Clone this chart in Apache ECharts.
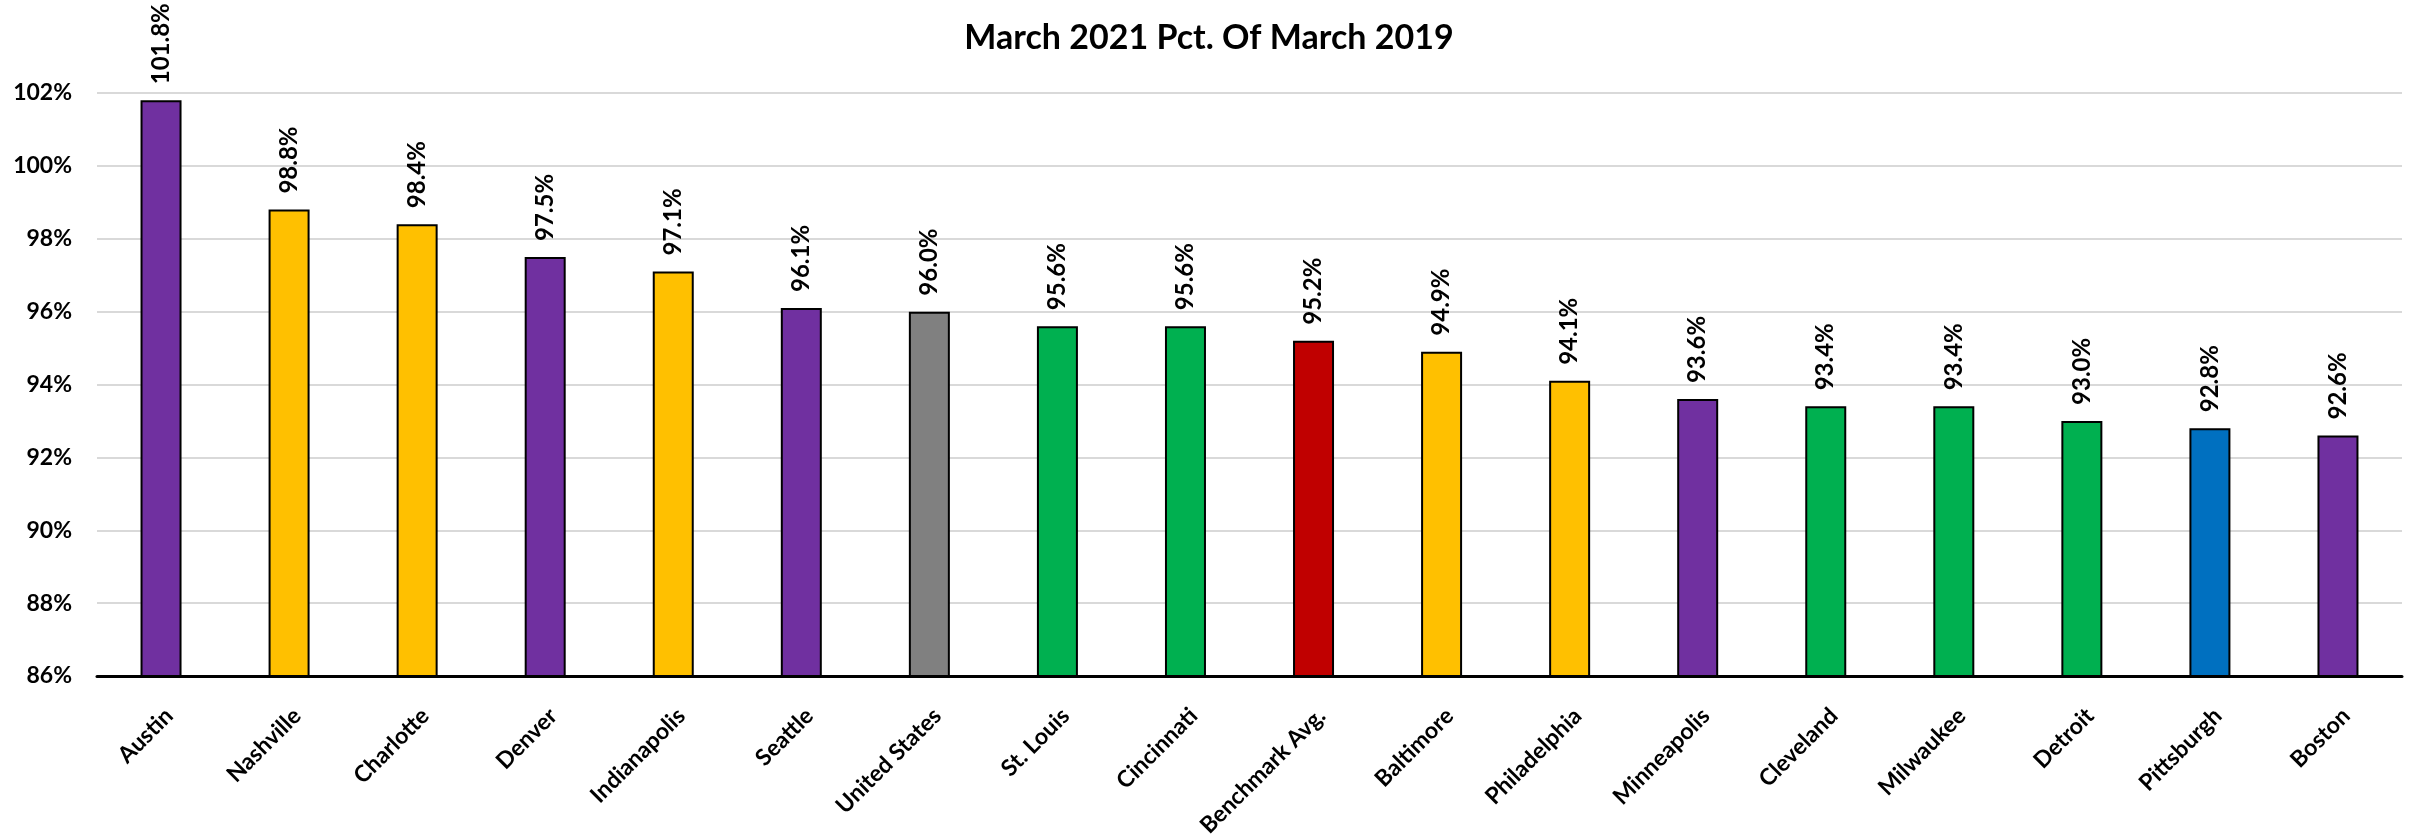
<!DOCTYPE html>
<html>
<head>
<meta charset="utf-8">
<title>March 2021 Pct. Of March 2019</title>
<script src="https://cdn.jsdelivr.net/npm/echarts@6/dist/echarts.min.js"></script>
<style>
  html, body { margin: 0; padding: 0; background: #ffffff; }
  #chart { width: 2418px; height: 838px; }
</style>
</head>
<body>
<div id="chart"></div>
<script>
// Metro areas, ordered from highest to lowest
const cities = [
  'Austin', 'Nashville', 'Charlotte', 'Denver', 'Indianapolis', 'Seattle',
  'United States', 'St. Louis', 'Cincinnati', 'Benchmark Avg.', 'Baltimore',
  'Philadelphia', 'Minneapolis', 'Cleveland', 'Milwaukee', 'Detroit',
  'Pittsburgh', 'Boston'
];

// March 2021 as a percent of March 2019
const pctOf2019 = [
  101.8, 98.8, 98.4, 97.5, 97.1, 96.1,
  96.0, 95.6, 95.6, 95.2, 94.9,
  94.1, 93.6, 93.4, 93.4, 93.0,
  92.8, 92.6
];

// Group of each bar (drives its fill colour)
const groups = [
  'peer', 'south', 'south', 'peer', 'south', 'peer',
  'nation', 'midwest', 'midwest', 'benchmark', 'south',
  'south', 'peer', 'midwest', 'midwest', 'midwest',
  'home', 'peer'
];

const groupColors = {
  peer: '#7030A0',
  south: '#FFC000',
  nation: '#808080',
  midwest: '#00B050',
  benchmark: '#C00000',
  home: '#0070C0'
};

// Value axis range and step
const yMin = 86;
const yMax = 102;
const yStep = 2;

const FONT = 'Lato, "Open Sans", sans-serif';

const chart = echarts.init(document.getElementById('chart'), null, { renderer: 'canvas' });

chart.setOption({
  animation: false,
  backgroundColor: '#ffffff',
  title: {
    text: 'March 2021 Pct. Of March 2019',
    left: 'center',
    top: 16,
    textStyle: {
      fontFamily: FONT,
      fontWeight: 'bold',
      fontSize: 34,
      color: '#000000'
    }
  },
  grid: {
    left: 97,
    right: 16,
    top: 93,
    bottom: 162,
    containLabel: false,
    outerBoundsMode: 'none'
  },
  xAxis: {
    type: 'category',
    data: cities,
    axisLine: { show: true, lineStyle: { color: '#000000', width: 3 } },
    axisTick: { show: false },
    axisLabel: {
      rotate: 45,
      interval: 0,
      margin: 28,
      align: 'right',
      verticalAlign: 'top',
      fontFamily: FONT,
      fontWeight: 'bold',
      fontSize: 23,
      color: '#000000'
    },
    splitLine: { show: false }
  },
  yAxis: {
    type: 'value',
    min: yMin,
    max: yMax,
    interval: yStep,
    axisLine: { show: false },
    axisTick: { show: false },
    axisLabel: {
      margin: 25,
      fontFamily: FONT,
      fontWeight: 'bold',
      fontSize: 23,
      color: '#000000',
      formatter: v => v + '%'
    },
    splitLine: { show: true, lineStyle: { color: '#D9D9D9', width: 2 } }
  },
  series: [{
    type: 'bar',
    barWidth: 41,
    data: pctOf2019.map((v, i) => ({
      value: v,
      itemStyle: { color: groupColors[groups[i]] }
    })),
    itemStyle: {
      borderColor: '#000000',
      borderWidth: 2
    },
    label: {
      show: true,
      position: 'top',
      rotate: 90,
      align: 'left',
      verticalAlign: 'middle',
      distance: 16,
      fontFamily: FONT,
      fontWeight: 'bold',
      fontSize: 24,
      color: '#000000',
      formatter: p => p.value.toFixed(1) + '%'
    },
    z: 3
  }]
});
</script>
</body>
</html>
